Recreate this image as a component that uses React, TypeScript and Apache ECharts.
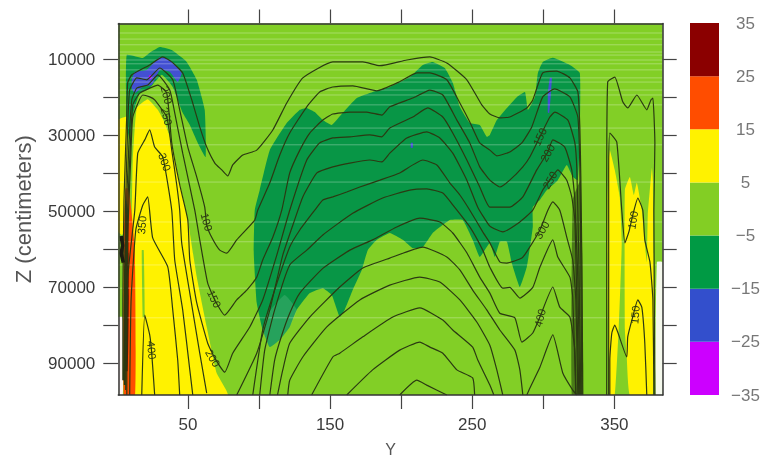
import React, { useEffect, useRef } from "react";
import * as echarts from "echarts";

type P = number[];
const yTicks = [50, 100, 150, 200, 250, 300, 350];
const yLabelTicks = [50, 150, 250, 350];
const zTicks = [10000, 20000, 30000, 40000, 50000, 60000, 70000, 80000, 90000];
const zLabelTicks = [10000, 30000, 50000, 70000, 90000];
const barLevels = [-35, -25, -15, -5, 5, 15, 25, 35];
const barColors = ["#cc00ff", "#334fcc", "#009a44", "#83ce24", "#fff200", "#ff4d00", "#8b0000"];

// contours: [Y, Z in thousands of centimeters]
const c50: P[] = [[4.2,94.4],[4.2,73.3],[5,47],[6.9,25.2],[7.6,16.2],[10.5,14.1],[23.1,11.5],[32.3,9.4],[38.6,10.7],[46.3,13.6],[52.7,20.7],[58.3,27.8],[63.2,33.1],[68.9,37.3],[73.8,39.1],[78,40.7],[81.5,37.8],[88.6,35.2],[98.4,33.9],[109.7,28.6],[119.5,21.5],[130.8,14.9],[151.9,10.7],[173,10.7],[185,11.7],[204,10.2],[220.2,9.4],[232.1,11],[246.2,15.4],[256.7,22],[262.4,24.4],[269.4,25.4],[276.4,25.2],[288.4,22.8],[292.6,20.7],[299.6,13.6],[309.5,13.1],[318.7,14.9],[324.3,18.6],[325.7,27.8],[326.4,41],[327.1,62.8],[327.8,98.3]];
const c100: P[] = [[4.7,94.4],[6,49.7],[7.6,27.8],[9,18.1],[14,14.9],[21,15.4],[30.2,12.3],[39.3,15.4],[44.2,23.3],[49.9,33.1],[56.2,41],[61.8,48.9],[63.2,53.6],[66.7,56.8],[72.4,60.2],[77.3,61],[84.3,57.5],[97,52.3],[99.1,49.7],[107.6,42.5],[114.6,35.2],[121.6,29.4],[133.6,22.5],[142.7,18.6],[151.9,17.3],[166,17],[182.9,18.3],[199,15.9],[211,13.6],[220.2,13.6],[232.1,15.4],[241.3,21.5],[248.3,26.5],[255.3,32],[262.4,33.9],[267.3,35.4],[276.4,34.4],[284.9,32],[291.9,27.8],[299.6,19.9],[308,17.8],[318.7,19.9],[324.3,25.2],[325.7,38.3],[326.4,62.8],[327.1,98.3]];
const c150: P[] = [[5.3,95.7],[6.5,52.3],[8.3,33.9],[10.5,20.7],[14,17.6],[21.7,16.8],[28.8,14.1],[37.2,18.1],[40.7,24.1],[46.3,34.7],[54.8,49.7],[58.3,57.5],[63.9,68.9],[68.9,73.3],[75.9,77.3],[84.3,73.3],[91.4,70.7],[98.4,67.3],[102.6,62.8],[109.7,56.8],[116,49.7],[121.6,39.9],[128.7,33.9],[135.7,29.4],[144.9,26],[151.9,24.4],[163.9,23.9],[175.8,23.9],[186.4,24.7],[192,22.5],[208.2,20.2],[220.2,18.1],[229.3,19.4],[239.2,26],[248.3,32],[255.3,38.3],[262.4,41.8],[269.4,43.6],[276.4,41.8],[285.6,38.3],[290.5,35.7],[297.6,30.4],[304.6,25.2],[308.1,23.9],[317.3,26],[322.2,32],[323.6,39.1],[325,62.8],[326.4,98.3]];
const c200: P[] = [[5.8,95.7],[7,54.9],[9,36.5],[11.2,22],[16.1,18.9],[23.1,17.6],[28.8,16.8],[35.1,18.9],[38.6,32],[44.2,43],[49.9,52.3],[51.3,62.8],[56.2,74.1],[63.9,84.7],[68.9,88.6],[75.9,92.3],[81.5,87.3],[93.5,80.4],[102.6,73.3],[112.5,61.5],[121.6,49.7],[133.6,36.5],[142.7,32],[151.9,30.7],[163.9,30.4],[177.9,29.9],[186.4,30.4],[192,28.1],[208.2,25.2],[218.7,22.8],[229.3,25.2],[236.3,29.4],[246.2,36.5],[255.3,43.6],[262.4,48.9],[276.4,48.9],[285.6,46.2],[295.4,39.1],[303.2,34.4],[306.7,31.2],[315.1,33.1],[320,39.1],[322.2,47],[324.3,68.1],[325.7,98.3]];
const c250a: P[] = [[6.2,97],[7.5,57.5],[9.7,36.5],[11.2,25.2],[18.2,19.4],[23.1,19.9],[26.6,20.7],[35.1,25.2],[38.6,33.9],[42.1,43],[44.2,49.7],[45.6,58.3],[51.3,71.5],[58.3,87.3],[63.2,97.8]];
const c250b: P[] = [[84.3,98.3],[98.4,87.3],[107.6,75.9],[116.7,61.5],[125,52.3],[130.8,46.2],[140.7,39.9],[151.9,38.3],[163.9,37.3],[177.9,36.5],[186.4,37],[192,34.7],[204,30.7],[218,29.1],[227.2,30.7],[236.3,34.7],[246.2,41.8],[253.9,48.9],[262.4,53.9],[271.5,55.4],[283.5,52.8],[292.6,49.7],[299.6,44.4],[304.6,41.8],[310.2,39.1],[316.5,41.8],[320,46.2],[322.2,52.3],[323.6,73.3],[325,98.3]];
const c300a: P[] = [[7,98.3],[7.5,68.1],[12.6,49.7],[14.7,34.7],[19.6,31.2],[23.1,28.6],[26.6,33.1],[32.3,35.7],[38.6,49.7],[40.7,62.8],[46.3,75.9],[51.3,91.7],[53.4,98.3]];
const c300b: P[] = [[95.6,98.3],[102.6,81.2],[111,70.7],[121.6,59.4],[128.7,54.9],[139.2,49.7],[144.9,47],[151.9,46.2],[161.7,44.9],[170.9,43.6],[185,41.8],[199,39.9],[215.2,36.5],[225.1,37.8],[234.2,42.5],[241.3,45.7],[248.3,49.7],[257.4,55.4],[262.4,58.3],[269.4,63.3],[274.4,63.6],[284.9,62.3],[289.1,60.2],[297.6,54.9],[303.2,49.7],[306.7,47.5],[311.6,49.7],[316.5,56.8],[320.7,62.8],[322.9,73.3],[324.3,98.3]];
const c350a: P[] = [[9,98.3],[10,73.3],[13.3,54.9],[18.2,48.4],[21.7,46.2],[25.2,57],[35.8,64.6],[39.3,75.9],[42.8,89.1],[44.2,98.3]];
const c350b: P[] = [[100.5,98.3],[104,86.5],[111,75.9],[121.6,64.1],[133.6,60.2],[144.9,56.2],[165.9,50.5],[187,46.5],[206.1,44.4],[218,44.1],[229.3,45.2],[236.3,48.3],[248.3,54.1],[257.4,60.2],[262.4,64.7],[271.5,70.2],[276.4,70],[283.5,72.8],[292.6,70],[297.6,64.7],[306.7,57.5],[310.2,62],[318.7,67.3],[320.7,72.6],[322.9,98.3]];
const c400a: P[] = [[17.5,98.3],[19.6,77.3],[23.1,82.5],[24.5,87.3],[26.6,98.3]];
const c400b: P[] = [[107.6,98.3],[111,89.1],[116,82.6],[121.6,76.8],[128.7,71.5],[144.9,65],[163.9,60.2],[179.9,57.5],[196.9,54.1],[213.1,51.8],[227.2,52.8],[236.3,55.7],[246.2,60.9],[255.3,67.3],[262.4,71.5],[269.4,76.8],[280,78],[284.9,84.4],[292.6,82],[297.6,77.8],[306.7,69.9],[311.6,75.2],[318.7,77.8],[322.2,86.5],[322.9,98.3]];
const c450a: P[] = [[113,98.3],[116.7,91.7],[121.6,84.7],[135.7,77.8],[156.8,69.9],[173,64.9],[192,62.3],[215.2,59.4],[232.1,62],[241.3,65.4],[250.3,70.7],[260.2,75.9],[269.4,81.2],[280,86.5],[283.5,91.7],[285.6,98.3]];
const c450b: P[] = [[288.4,98.3],[290.5,96.5],[297.6,91],[306.7,82.5],[313.7,92.5],[320.7,97],[323.6,98.3]];
const c500: P[] = [[120.2,98.3],[121.6,94.4],[130.8,88.3],[147.7,80.4],[170.9,73.3],[192,69.4],[213.1,67.3],[227.2,68.6],[241.3,73.3],[253.2,79.1],[262.4,85.2],[267.3,91.7],[271.5,98.3]];
const c550: P[] = [[137,98.3],[151.9,88.3],[156.8,87.3],[173,83],[194.1,77.8],[213.1,75.4],[229.3,78.6],[236.3,81.2],[250.3,85.7],[253.9,89.1],[262.4,95.7],[265.2,98.3]];
const c600: P[] = [[161.7,98.3],[179.9,91.7],[199,86.5],[213.1,84.4],[220.2,85.7],[229.3,87.3],[239.2,91.7],[250.3,93.8],[251.7,98.3]];
const c650: P[] = [[199,98.3],[211,94.4],[218,95.7],[232.1,98.3]];
const r50: P[] = [[344.6,98.3],[344.6,47],[345.3,16],[350.3,14.7],[355.9,21.2],[359.4,22.8],[365.8,19.4],[372.8,23.3],[375.7,20.7],[377.1,20.2],[378.5,32],[377.8,49.7],[378.5,98.3]];
const r100: P[] = [[346,98.3],[346,41.8],[346.8,29.4],[351.7,31.8],[355.2,49.7],[357.4,58.3],[360.2,55.4],[363,50.9],[366.5,46.5],[370,49.7],[371.4,57.5],[375,63.3],[377.1,73.3],[377.8,98.3]];
const r150: P[] = [[346.8,98.3],[346.8,89.1],[348.2,82],[350.3,79.9],[352.4,81.8],[358.7,88.3],[359.4,83],[362.9,77.8],[366.5,73.3],[369.3,75.2],[371.4,84.6],[372.8,98.3]];
const blob: P[] = [[3,56.5],[4,59],[3,61],[4.5,63.5]];
const contours = [c50,c100,c150,c200,c250a,c250b,c300a,c300b,c350a,c350b,c400a,c400b,c450a,c450b,c500,c550,c600,c650,r50,r100,r150];

// filled regions: [Y, Z in thousands of centimeters]
const darkCentral: P[] = [[128.7,23.3],[133.6,22.8],[139.2,23.9],[144.9,26],[151.2,27.3],[158.9,24.1],[168.8,20.2],[180,18.6],[192,17.3],[206.1,14.7],[215.2,11.5],[222.2,10.7],[230.7,12.3],[236.3,16.2],[241.3,22.5],[248.3,26.8],[255.3,27.3],[260.2,30.4],[262.4,29.9],[267.3,26],[274.4,22.8],[281.5,19.9],[287.1,18.6],[289.2,23.3],[294.1,19.9],[296.2,13.6],[299.6,10.7],[306.7,9.6],[318.7,11.5],[325.7,13.6],[325.7,29.4],[324.3,41.8],[320.7,40.9],[316.5,37.8],[310.2,41.8],[302.5,44.4],[297.6,47],[292.6,48.9],[292.6,54.1],[288.4,64.6],[283.5,69.9],[277.8,63.6],[274.4,58],[269.4,58],[265.9,62],[262.4,58.3],[255.3,62],[250.3,57.5],[243.3,52.3],[234.2,52.3],[222.2,55.7],[215.2,59.4],[208.2,59.7],[201.1,57.5],[192,55.7],[182.9,57.5],[176.5,60.2],[172.3,65.4],[165.9,70.7],[160.3,75.9],[156.8,77.8],[151.2,72],[144.9,70.2],[135.7,71.5],[126.6,75.9],[121.6,80.4],[114.6,83.8],[107.6,85.7],[102.6,81.2],[98.4,74.1],[96.3,61],[97,49.7],[100.5,44.4],[107.6,33.9],[119.5,26.8]];
const darkHill: P[] = [[6.9,8.9],[18.2,9.7],[23.1,8.3],[30.2,6.8],[38.6,7.6],[49.1,10.7],[56.2,15.4],[61.8,23.3],[62.5,35.7],[56.9,32],[51.3,27.3],[46.3,24.1],[39.3,17.3],[31.6,14.1],[23.1,17.6],[16.1,18.9],[11.2,24.7],[9,31.2],[6.9,27.3]];
const blueHill: P[] = [[10.5,15.4],[12.6,13.3],[21,12.8],[30.2,9.4],[37.2,10.2],[45.6,13.6],[42.8,16],[37.2,13.3],[30.2,12.8],[24.5,16.8],[18.2,17.3],[12.6,18.9],[10.5,17.6]];
const purpleDot: P[] = [[22.4,14.4],[23.8,14.1],[24.5,14.9],[23.1,15.4]];
const blueSliver: P[] = [[303.2,24.1],[303.2,18.9],[304.6,14.9],[306,14.9],[305.3,19.4],[304.2,24.1]];
const blueDot: P[] = [[206.8,32],[208.2,32],[208.2,33.3],[206.8,33.3]];
const yellowMain: P[] = [[14,22.8],[21.7,20.5],[28.8,23.3],[33.7,26.7],[38.6,32],[44.2,42.5],[49.9,52.3],[56.2,67.3],[63.2,80.4],[70.2,92.5],[78,98.3],[9.7,98.3],[9.7,73.3],[10.5,49.7],[11.2,36.5]];
const yellowEdge: P[] = [[1,26],[6.9,25.2],[7.6,54.9],[3.4,56.2],[1,55.4]];
const greenSliver: P[] = [[17.5,60.2],[18.9,60.2],[19.6,77.3],[18.2,78]];
const whiteLeft: P[] = [[1,77.8],[4.2,77.8],[4.2,98.3],[1,98.3]];
const orangeBand: P[] = [[6,44],[8.5,44],[12.6,60],[12.8,98.3],[5,98.3],[4.6,73],[4.8,57]];
const redBand: P[] = [[6.4,50],[8,50],[8.4,73],[7.6,92],[5.2,92],[5,71]];
const yellowRightA: P[] = [[346.1,36.5],[346.8,33.9],[350.3,39.1],[353.8,46.2],[355.2,58.3],[353.1,80.4],[350.3,98.3],[346.8,98.3],[345.3,73.3],[345.3,47]];
const yellowRightB: P[] = [[357.4,44.3],[360.9,41],[363.7,45.7],[365.8,42.5],[369.3,49.7],[372.8,63.3],[373.5,51],[376.4,38.6],[377.1,42],[377.1,98.3],[360.9,98.3],[358.7,88.3],[357.4,81.2]];
const whiteRight: P[] = [[379.9,63.3],[384,63.3],[384,98.3],[379,98.3]];
const denseBand: P[] = [[320.7,47],[326.4,41.8],[327.8,98.3],[320,98.3]];
const paleWedge: P[] = [[102.6,81.2],[107.6,85.7],[114.6,83.8],[121.6,80.4],[126.6,75.9],[118,72],[106,77]];

const regions: P[][] = [darkCentral, darkHill, blueHill, purpleDot, blueSliver, blueDot, paleWedge, yellowMain, yellowEdge, greenSliver, whiteLeft, orangeBand, redBand, yellowRightA, yellowRightB, whiteRight, denseBand];
const regionColors = ["#089646", "#089646", "#4350d2", "#cc00ff", "#4350d2", "#4350d2", "rgba(255,255,255,0.12)", "#fff200", "#fff200", "#82cf26", "#fdf4f0", "#ff4d00", "#5a1205", "#fff200", "#fff200", "#f4f8ec", "rgba(45,80,15,0.65)"];

// faint data gaps (Z in thousands of centimeters)
const gapZ = [3.1, 4.7, 6.2, 8.1, 8.9, 10.2, 11.2, 12.8, 14.9, 16, 18.1, 19.4, 22, 28.1, 32.5, 42.3, 52.8, 58, 64.1, 70.2, 78];

const labelTexts = ["100", "150", "200", "400", "350", "300", "200", "250", "150", "200", "250", "300", "400", "100", "150"];
const labelY = [63.2, 68.5, 67.5, 24.5, 17.5, 33.7, 35, 35, 297.5, 303, 304.6, 299, 297.6, 363, 364.5];
const labelZ = [52.8, 73, 88.6, 86.5, 53.6, 37, 19.4, 25, 30.4, 34.6, 41.8, 54.9, 78, 52.3, 77.2];
const labelAngle = [-75, -65, -60, -85, 85, -70, -75, -75, 65, 60, 60, 60, 75, 80, 85];

const cm = (pts: P[]) => pts.map(([y, z]) => [y, z * 1000]);
const FONT = "Liberation Sans";
const INK = "#3a3a3a";

export default function App() {
  const ref = useRef<HTMLDivElement>(null);
  useEffect(() => {
    const chart = echarts.init(ref.current!, null, { renderer: "svg" });
    const line = { lineStyle: { color: "#333", width: 1.5 } };
    const tick = (customValues: number[], length: number) => ({ show: true, customValues, length, inside: false, lineStyle: { color: "#444", width: 1.2 } });
    const regionSeries = {
      type: "custom", silent: true, clip: true, z: 2,
      data: regions.map((_, i) => [i]),
      renderItem: (p: any, api: any) => ({
        type: "polygon",
        shape: { points: cm(regions[p.dataIndex]).map((c) => api.coord(c)), smooth: 0.12 },
        style: { fill: regionColors[p.dataIndex] },
      }),
    };
    const gapSeries = {
      type: "custom", silent: true, clip: true, z: 3,
      data: gapZ.map((_, i) => [i]),
      renderItem: (p: any, api: any) => {
        const z = gapZ[p.dataIndex] * 1000;
        const a = api.coord([1, z]);
        const b = api.coord([384, z]);
        return { type: "line", shape: { x1: a[0], y1: a[1], x2: b[0], y2: b[1] }, style: { stroke: "#ffffff", opacity: 0.3, lineWidth: 1 } };
      },
    };
    const labelSeries = {
      type: "custom", silent: true, clip: true, z: 6,
      data: labelTexts.map((_, i) => [i]),
      renderItem: (p: any, api: any) => {
        const i = p.dataIndex;
        const c = api.coord([labelY[i], labelZ[i] * 1000]);
        return {
          type: "text", x: c[0], y: c[1], rotation: (labelAngle[i] * Math.PI) / 180,
          style: { text: labelTexts[i], fill: "#2b3a12", font: `11px "${FONT}"`, textAlign: "center", textVerticalAlign: "middle" },
        };
      },
    };
    const lineSeries = contours.map((c) => ({
      type: "line", data: cm(c), showSymbol: false, symbol: "none", silent: true, z: 4, smooth: 0.15,
      lineStyle: { color: "#2b3a12", width: 1.2 },
    }));
    const blobSeries = {
      type: "line", data: cm(blob), showSymbol: false, symbol: "none", silent: true, z: 4,
      lineStyle: { color: "#1a1a10", width: 3.5 },
    };
    const barSeries = {
      type: "custom", silent: true, xAxisIndex: 2, yAxisIndex: 2, z: 2,
      data: barColors.map((_, i) => [i]),
      renderItem: (p: any, api: any) => {
        const i = p.dataIndex;
        const a = api.coord([0, barLevels[i + 1]]);
        const b = api.coord([1, barLevels[i]]);
        return { type: "rect", shape: { x: a[0], y: a[1], width: b[0] - a[0], height: b[1] - a[1] }, style: { fill: barColors[i] } };
      },
    };
    const plain = (v: number) => String(v);
    chart.setOption({
      animation: false,
      textStyle: { fontFamily: FONT },
      grid: [
        { left: 118.3, top: 23.5, width: 544.4, height: 371.5, show: true, backgroundColor: "#82cf26", borderWidth: 0, outerBoundsMode: "none", containLabel: false },
        { left: 690, top: 23, width: 29, height: 372, show: false, outerBoundsMode: "none", containLabel: false },
      ],
      xAxis: [
        { type: "value", gridIndex: 0, min: 1, max: 384, position: "bottom", z: 10, splitLine: { show: false }, axisLine: { show: true, onZero: false, ...line }, axisTick: tick(yTicks, 14), axisLabel: { customValues: yLabelTicks, color: INK, fontSize: 17, margin: 21, fontFamily: FONT, formatter: plain }, name: "Y", nameLocation: "middle", nameGap: 46, nameTextStyle: { color: "#555", fontSize: 16, fontFamily: FONT } },
        { type: "value", gridIndex: 0, min: 1, max: 384, position: "top", z: 10, splitLine: { show: false }, axisLine: { show: true, onZero: false, ...line }, axisTick: tick(yTicks, 14), axisLabel: { show: false } },
        { type: "value", gridIndex: 1, min: 0, max: 1, show: false },
      ],
      yAxis: [
        { type: "value", gridIndex: 0, inverse: true, min: 600, max: 98300, position: "left", z: 10, splitLine: { show: false }, axisLine: { show: true, onZero: false, ...line }, axisTick: tick(zTicks, 15), axisLabel: { customValues: zLabelTicks, color: INK, fontSize: 17, margin: 23, fontFamily: FONT, formatter: plain }, name: "Z (centimeters)", nameLocation: "middle", nameGap: 84, nameTextStyle: { color: "#555", fontSize: 22, fontFamily: FONT } },
        { type: "value", gridIndex: 0, inverse: true, min: 600, max: 98300, position: "right", z: 10, splitLine: { show: false }, axisLine: { show: true, onZero: false, ...line }, axisTick: tick(zTicks, 14), axisLabel: { show: false } },
        { type: "value", gridIndex: 1, min: -35, max: 35, position: "right", splitLine: { show: false }, axisLine: { show: false }, axisTick: { show: false }, axisLabel: { customValues: barLevels, color: "#777", fontSize: 17, margin: 26.5, align: "center", fontFamily: FONT, formatter: (v: number) => (v < 0 ? "\u2212" + -v : String(v)) } },
      ],
      series: [regionSeries, gapSeries, ...lineSeries, blobSeries, labelSeries, barSeries],
    });
    return () => chart.dispose();
  }, []);
  return <div ref={ref} style={{ position: "fixed", left: 0, top: 0, width: 765, height: 456, background: "#fff", filter: "blur(0.5px)" }} />;
}
